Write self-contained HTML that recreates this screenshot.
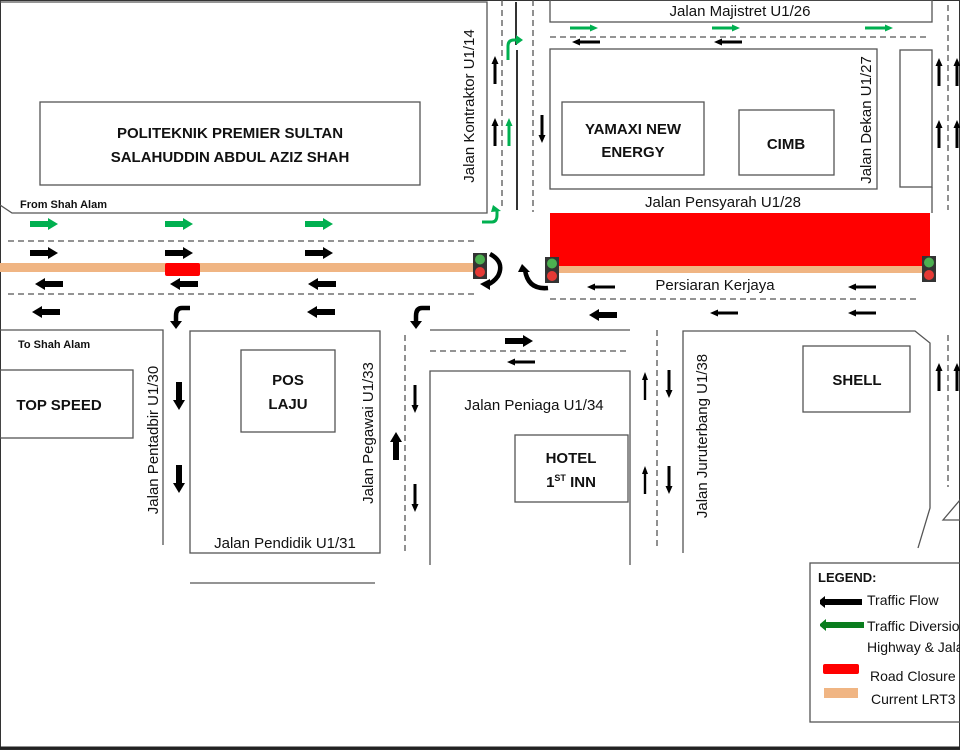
<!DOCTYPE html>
<html><head><meta charset="utf-8"><style>
html,body{margin:0;padding:0;background:#fff}
svg{display:block}
text{font-family:"Liberation Sans",sans-serif;fill:#111}
.b{font-weight:bold}
</style></head><body>
<svg width="960" height="750" viewBox="0 0 960 750" xmlns="http://www.w3.org/2000/svg">
<defs>
<polygon id="ar" points="0,-3 18,-3 18,-6 28,0 18,6 18,3 0,3"/>
<polygon id="at" points="0,-1.5 20,-1.5 20,-3.5 28,0 20,3.5 20,1.5 0,1.5"/>
<polygon id="av" points="0,-1.2 20,-1.2 20,-3 28,0 20,3 20,1.2 0,1.2"/>
</defs>
<rect x="0.5" y="0.5" width="959" height="749" fill="none" stroke="#333" stroke-width="1"/>
<line x1="0" y1="748" x2="960" y2="748" stroke="#222" stroke-width="3"/>
<g fill="none" stroke="#555" stroke-width="1.3">
<polyline points="0,2 487,2 487,213 12,213 0,205"/>
<rect x="40" y="102" width="380" height="83"/>
<rect x="550" y="0" width="382" height="22"/>
<rect x="550" y="49" width="327" height="140"/>
<rect x="900" y="50" width="32" height="137"/>
<line x1="932" y1="187" x2="932" y2="213"/>
<rect x="562" y="102" width="142" height="73"/>
<rect x="739" y="110" width="95" height="65"/>
<polyline points="0,330 163,330 163,545"/>
<rect x="0" y="370" width="133" height="68"/>
<rect x="190" y="331" width="190" height="222"/>
<rect x="241" y="350" width="94" height="82"/>
<line x1="190" y1="583" x2="375" y2="583"/>
<line x1="430" y1="330" x2="630" y2="330"/>
<polyline points="430,565 430,371 630,371 630,565"/>
<rect x="515" y="435" width="113" height="67"/>
<polyline points="683,553 683,331 915,331 930,343 930,508 918,548"/>
<rect x="803" y="346" width="107" height="66"/>
<polygon points="943,520 960,500 960,520"/>
<rect x="810" y="563" width="160" height="159"/>
</g>
<g stroke="#333" stroke-width="2">
<line x1="516" y1="2" x2="516" y2="45"/>
<line x1="517" y1="50" x2="517" y2="210"/>
</g>
<g fill="none" stroke="#555" stroke-width="1.3" stroke-dasharray="6,4">
<line x1="502" y1="0" x2="502" y2="210"/>
<line x1="533" y1="0" x2="533" y2="212"/>
<line x1="550" y1="37" x2="930" y2="37"/>
<line x1="948" y1="5" x2="948" y2="210"/>
<line x1="8" y1="241" x2="475" y2="241"/>
<line x1="8" y1="294" x2="475" y2="294"/>
<line x1="550" y1="299" x2="920" y2="299"/>
<line x1="430" y1="351" x2="630" y2="351"/>
<line x1="405" y1="335" x2="405" y2="555"/>
<line x1="657" y1="330" x2="657" y2="550"/>
<line x1="948" y1="335" x2="948" y2="487"/>
</g>
<rect x="550" y="213" width="380" height="55" fill="#f00"/>
<rect x="0" y="263" width="480" height="9" fill="#f0b583"/>
<rect x="550" y="266" width="380" height="7" fill="#f0b583"/>
<rect x="165" y="263" width="35" height="13" rx="2" fill="#f00"/>
<g>
<rect x="473" y="253" width="14" height="26" fill="#333"/><circle cx="480" cy="259.5" r="5" fill="#4caf50"/><circle cx="480" cy="272" r="5" fill="#e53935"/>
<rect x="545" y="257" width="14" height="26" fill="#333"/><circle cx="552" cy="263.5" r="5" fill="#4caf50"/><circle cx="552" cy="276" r="5" fill="#e53935"/>
<rect x="922" y="256" width="14" height="26" fill="#333"/><circle cx="929" cy="262.5" r="5" fill="#4caf50"/><circle cx="929" cy="275" r="5" fill="#e53935"/>
</g>
<g fill="#000">
<use href="#ar" transform="translate(30,253)"/><use href="#ar" transform="translate(165,253)"/><use href="#ar" transform="translate(305,253)"/>
<use href="#ar" transform="translate(63,284) rotate(180)"/><use href="#ar" transform="translate(198,284) rotate(180)"/><use href="#ar" transform="translate(336,284) rotate(180)"/>
<use href="#ar" transform="translate(60,312) rotate(180)"/><use href="#ar" transform="translate(335,312) rotate(180)"/>
<use href="#at" transform="translate(615,287) rotate(180)"/><use href="#at" transform="translate(876,287) rotate(180)"/>
<use href="#ar" transform="translate(617,315) rotate(180)"/><use href="#at" transform="translate(738,313) rotate(180)"/><use href="#at" transform="translate(876,313) rotate(180)"/>
<use href="#ar" transform="translate(505,341)"/><use href="#at" transform="translate(535,362) rotate(180)"/>
<use href="#at" transform="translate(600,42) rotate(180)"/><use href="#at" transform="translate(742,42) rotate(180)"/>
<use href="#at" transform="translate(495,84) rotate(-90)"/><use href="#at" transform="translate(495,146) rotate(-90)"/>
<use href="#at" transform="translate(542,115) rotate(90)"/>
<use href="#at" transform="translate(939,86) rotate(-90)"/><use href="#at" transform="translate(939,148) rotate(-90)"/>
<use href="#at" transform="translate(957,86) rotate(-90)"/><use href="#at" transform="translate(957,148) rotate(-90)"/>
<use href="#ar" transform="translate(179,382) rotate(90)"/><use href="#ar" transform="translate(179,465) rotate(90)"/>
<use href="#ar" transform="translate(396,460) rotate(-90)"/>
<use href="#at" transform="translate(415,385) rotate(90)"/><use href="#at" transform="translate(415,484) rotate(90)"/>
<use href="#av" transform="translate(645,400) rotate(-90)"/><use href="#av" transform="translate(645,494) rotate(-90)"/>
<use href="#at" transform="translate(669,370) rotate(90)"/><use href="#at" transform="translate(669,466) rotate(90)"/>
<use href="#at" transform="translate(939,391) rotate(-90)"/><use href="#at" transform="translate(957,391) rotate(-90)"/>
</g>
<g fill="#00b050">
<use href="#ar" transform="translate(30,224)"/><use href="#ar" transform="translate(165,224)"/><use href="#ar" transform="translate(305,224)"/>
<use href="#at" transform="translate(570,28)"/><use href="#at" transform="translate(712,28)"/><use href="#at" transform="translate(865,28)"/>
<use href="#at" transform="translate(509,146) rotate(-90)"/>
</g>
<g fill="none" stroke="#00b050" stroke-width="3">
<path d="M482,222 H492 Q497,222 497,215 V210"/><path d="M508,60 V46 Q508,40 514,40 H518"/>
</g>
<polygon points="493,205 501,211 491,212" fill="#00b050"/><polygon points="516,35 523,40 516,45" fill="#00b050"/>
<g fill="none" stroke="#000" stroke-width="4.5">
<path d="M190,308 H182 Q176,308 176,316 V322"/><path d="M430,308 H422 Q416,308 416,316 V322"/>
<path d="M490,254 Q505,262 498,276 Q494,282 487,285"/>
<path d="M525,270 Q528,290 548,288"/>
</g>
<g fill="#000">
<polygon points="170,321 182,321 176,329"/><polygon points="410,321 422,321 416,329"/>
<polygon points="480,284 490,279 490,290"/><polygon points="518,272 530,272 522,264"/>
</g>
<polygon points="820,600 825,596 825,599 862,599 862,605 825,605 825,608 820,604" fill="#000"/>
<polygon points="820,624 826,619 826,622 864,622 864,628 826,628 826,631 820,626" fill="#0a7d1e"/>
<rect x="823" y="664" width="36" height="10" rx="2" fill="#f00"/>
<rect x="824" y="688" width="34" height="10" fill="#f0b583"/>
<text x="818" y="582" font-size="13" class="b">LEGEND:</text>
<text x="867" y="605" font-size="14">Traffic Flow</text>
<text x="867" y="631" font-size="14">Traffic Diversion</text>
<text x="867" y="652" font-size="14">Highway &amp; Jalan</text>
<text x="870" y="681" font-size="14">Road Closure</text>
<text x="871" y="704" font-size="14">Current LRT3</text>
<g class="b" font-size="15" text-anchor="middle">
<text x="230" y="138">POLITEKNIK PREMIER SULTAN</text>
<text x="230" y="162">SALAHUDDIN ABDUL AZIZ SHAH</text>
<text x="633" y="134">YAMAXI NEW</text><text x="633" y="157">ENERGY</text>
<text x="786" y="149">CIMB</text>
<text x="59" y="410">TOP SPEED</text>
<text x="288" y="385">POS</text><text x="288" y="409">LAJU</text>
<text x="571" y="463">HOTEL</text>
<text x="571" y="487">1<tspan font-size="9" dy="-6">ST</tspan><tspan dy="6"> INN</tspan></text>
<text x="857" y="385">SHELL</text>
</g>
<g font-size="15" text-anchor="middle">
<text x="740" y="16">Jalan Majistret U1/26</text>
<text x="723" y="207">Jalan Pensyarah U1/28</text>
<text x="715" y="290">Persiaran Kerjaya</text>
<text x="534" y="410">Jalan Peniaga U1/34</text>
<text x="285" y="548">Jalan Pendidik U1/31</text>
<text transform="translate(474,106) rotate(-90)">Jalan Kontraktor U1/14</text>
<text transform="translate(871,120) rotate(-90)">Jalan Dekan U1/27</text>
<text transform="translate(158,440) rotate(-90)">Jalan Pentadbir U1/30</text>
<text transform="translate(373,433) rotate(-90)">Jalan Pegawai U1/33</text>
<text transform="translate(707,436) rotate(-90)">Jalan Juruterbang U1/38</text>
</g>
<g font-size="11" class="b" fill="#222">
<text x="20" y="208">From Shah Alam</text>
<text x="18" y="348">To Shah Alam</text>
</g>
</svg>
</body></html>
